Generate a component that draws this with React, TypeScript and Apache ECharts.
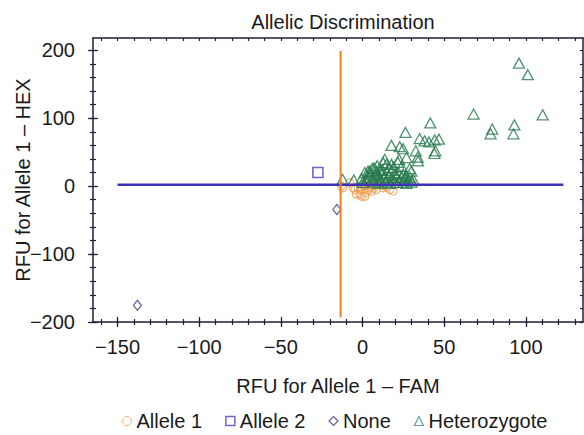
import React, { useEffect, useRef } from "react";
import * as echarts from "echarts";

const TITLE = "Allelic Discrimination";
const X_NAME = "RFU for Allele 1 – FAM";
const Y_NAME = "RFU for Allele 1 – HEX";

const X_MAJOR = [-150, -100, -50, 0, 50, 100];
const X_MINOR = [-160, -150, -140, -130, -120, -110, -100, -90, -80, -70, -60, -50, -40, -30, -20, -10, 0, 10, 20, 30, 40, 50, 60, 70, 80, 90, 100, 110, 120, 130];
const Y_MAJOR = [-200, -100, 0, 100, 200];
const Y_MINOR = [-200, -180, -160, -140, -120, -100, -80, -60, -40, -20, 0, 20, 40, 60, 80, 100, 120, 140, 160, 180, 200];

const ALLELE1 = [
  [-12, -2.5], [-12.8, 0], [-7.8, 5], [-5.7, -2.5], [-4.7, -5], [-3.7, -12], [-2.7, -2.5], [-1.6, -12],
  [-0.6, -15], [0.4, 2.5], [1.4, -15], [3.4, -2.5], [3.4, -7], [5.5, -7.4], [6.5, 5], [6.5, 0],
  [8.5, -5], [9.5, 2.5], [10.6, 2.5], [10.5, 4.7], [12.6, -2.5], [16.7, -5], [18.7, -7.4], [1, 0],
  [4, 2], [7, -3], [-1, -6], [2, -10], [13, 1], [15, -1],
];
const ALLELE2 = [[-27.3, 20]];
const NONE = [[-15.7, -34.5], [-137.8, -175.4]];
const HETERO = [
  [95.8, 181], [101.2, 164], [68, 106], [110.3, 105], [79.4, 84], [78.4, 77], [93, 90], [92.4, 77],
  [41.5, 93], [26.3, 79], [35, 70], [38, 66.7], [40.7, 65], [44.2, 68], [46.8, 69], [44.6, 52], [44, 48],
  [17.7, 60], [22.8, 58], [24.8, 55], [32.6, 52], [34, 37], [22.4, 39.5], [26.9, 42], [33.8, 42.5],
  [13.6, 39.5], [12.6, 34.6], [14.7, 32], [17.7, 32], [21.6, 35], [5.9, 25.8], [28.9, 25.8], [29.9, 22], [26.9, 15],
  [1.4, 20], [3.4, 22], [4.5, 22], [8.5, 22], [-12.2, 10], [-5.3, 9], [-0.6, 11], [2.4, 10],
  [0, 5], [2, 8], [4, 13], [5, 17], [6, 10], [7, 6], [8, 15], [9, 19], [10, 12], [10, 4], [11, 8], [12, 17],
  [12, 24], [13, 13], [14, 6], [15, 10], [15, 20], [16, 15], [17, 4], [18, 12], [18, 23], [19, 8], [20, 17],
  [21, 5], [21, 13], [22, 20], [23, 9], [24, 14], [25, 6], [25, 18], [26, 11], [27, 4], [28, 8], [29, 13],
  [30, 6], [31, 10], [7, 27], [9, 30], [11, 23], [16, 27], [19, 28], [24, 29],
];
const BLUE_LINE = [[-150, 2], [123, 2]];
const ORANGE_LINE = [[-13.4, -193], [-13.4, 199]];

const X_MIN = -165, X_MAX = 135, Y_MIN = -200, Y_MAX = 218;

const FONT = "'Liberation Sans', Arial, sans-serif";
const AXIS_COLOR = "#1e1e3a";
const TEXT_COLOR = "#1a1a1a";
const FS = 20;

const fmt = (v: number) => String(v).replace("-", "\u2212");

function makeAxis(kind: "x" | "y", position: string, opts: any) {
  const isX = kind === "x";
  return {
    type: "value",
    position,
    min: isX ? X_MIN : Y_MIN,
    max: isX ? X_MAX : Y_MAX,
    splitLine: { show: false },
    axisLine: { show: !!opts.line, onZero: false, lineStyle: { color: AXIS_COLOR, width: 1.5 } },
    axisTick: {
      show: true,
      inside: !!opts.inside,
      length: opts.len,
      customValues: opts.ticks,
      lineStyle: { color: AXIS_COLOR, width: 1.2 },
    },
    axisLabel: opts.labels
      ? {
          show: true,
          customValues: opts.labels,
          formatter: fmt,
          fontSize: FS,
          fontFamily: FONT,
          color: TEXT_COLOR,
          margin: isX ? 15 : 18,
        }
      : { show: false },
    ...(opts.name
      ? {
          name: opts.name,
          nameLocation: "middle",
          nameGap: isX ? 54 : 60,
          nameMoveOverlap: false,
          nameTextStyle: { fontSize: FS, fontFamily: FONT, color: TEXT_COLOR },
        }
      : {}),
  };
}

export default function App() {
  const ref = useRef<HTMLDivElement>(null);
  useEffect(() => {
    if (!ref.current) return;
    const chart = echarts.init(ref.current, null, { renderer: "svg" });
    const option: any = {
      animation: false,
      backgroundColor: "#ffffff",
      title: {
        text: TITLE,
        left: 338,
        textAlign: "center",
        top: 7,
        textStyle: { fontSize: FS, fontWeight: "normal", fontFamily: FONT, color: TEXT_COLOR },
      },
      grid: { left: 93, right: 1, top: 38, bottom: 113, containLabel: false },
      xAxis: [
        makeAxis("x", "bottom", { line: true, ticks: X_MAJOR, len: 5, labels: X_MAJOR, name: X_NAME }),
        makeAxis("x", "bottom", { ticks: X_MAJOR, len: 5, inside: true }),
        makeAxis("x", "bottom", { ticks: X_MINOR, len: 3 }),
        makeAxis("x", "bottom", { ticks: X_MINOR, len: 3, inside: true }),
        makeAxis("x", "top", { line: true, ticks: X_MINOR, len: 3, inside: true }),
      ],
      yAxis: [
        makeAxis("y", "left", { line: true, ticks: Y_MAJOR, len: 5, labels: Y_MAJOR, name: Y_NAME }),
        makeAxis("y", "left", { ticks: Y_MAJOR, len: 5, inside: true }),
        makeAxis("y", "left", { ticks: Y_MINOR, len: 3 }),
        makeAxis("y", "left", { ticks: Y_MINOR, len: 3, inside: true }),
        makeAxis("y", "right", { line: true, ticks: Y_MINOR, len: 3, inside: true }),
      ],
      legend: {
        left: 122,
        top: 411,
        padding: 0,
        itemWidth: 9,
        itemHeight: 9,
        itemGap: 23,
        textStyle: { fontSize: 20, fontFamily: FONT, color: TEXT_COLOR },
        data: [
          { name: "Allele 1", icon: "circle", itemStyle: { color: "#fff", borderColor: "#f2a25c", borderWidth: 1 } },
          { name: "Allele 2", icon: "rect", itemStyle: { color: "#fff", borderColor: "#4b3fc0", borderWidth: 1.5 } },
          { name: "None", icon: "diamond", itemStyle: { color: "#fff", borderColor: "#3a3a8a", borderWidth: 1.2 } },
          { name: "Heterozygote", icon: "triangle", itemStyle: { color: "#fff", borderColor: "#3a8a78", borderWidth: 1.2 } },
        ],
      },
      series: [
        {
          name: "Allele 1",
          type: "scatter",
          data: ALLELE1,
          symbol: "circle",
          symbolSize: 8,
          itemStyle: { color: "rgba(255,255,255,0)", borderColor: "#f09a4a", borderWidth: 1.1 },
          z: 2,
        },
        {
          name: "Heterozygote",
          type: "scatter",
          data: HETERO,
          symbol: "triangle",
          symbolSize: [11, 10],
          itemStyle: { color: "rgba(255,255,255,0)", borderColor: "#26784c", borderWidth: 1.3 },
          z: 2,
        },
        {
          name: "Allele 2",
          type: "scatter",
          data: ALLELE2,
          symbol: "rect",
          symbolSize: 10,
          itemStyle: { color: "rgba(255,255,255,0)", borderColor: "#4b3fc0", borderWidth: 1.6 },
          z: 2,
        },
        {
          name: "None",
          type: "scatter",
          data: NONE,
          symbol: "diamond",
          symbolSize: [8, 10],
          itemStyle: { color: "rgba(255,255,255,0)", borderColor: "#3a3a8a", borderWidth: 1.2 },
          z: 2,
        },
        {
          name: "hline",
          type: "line",
          data: BLUE_LINE,
          symbol: "none",
          silent: true,
          lineStyle: { color: "#3a33b8", width: 2.5 },
          z: 3,
        },
        {
          name: "vline",
          type: "line",
          data: ORANGE_LINE,
          symbol: "none",
          silent: true,
          lineStyle: { color: "#f07d1e", width: 2 },
          z: 3,
        },
      ],
    };
    chart.setOption(option);
    return () => chart.dispose();
  }, []);
  return (
    <div
      ref={ref}
      style={{ position: "fixed", left: 0, top: 0, width: 584, height: 435 }}
    />
  );
}
